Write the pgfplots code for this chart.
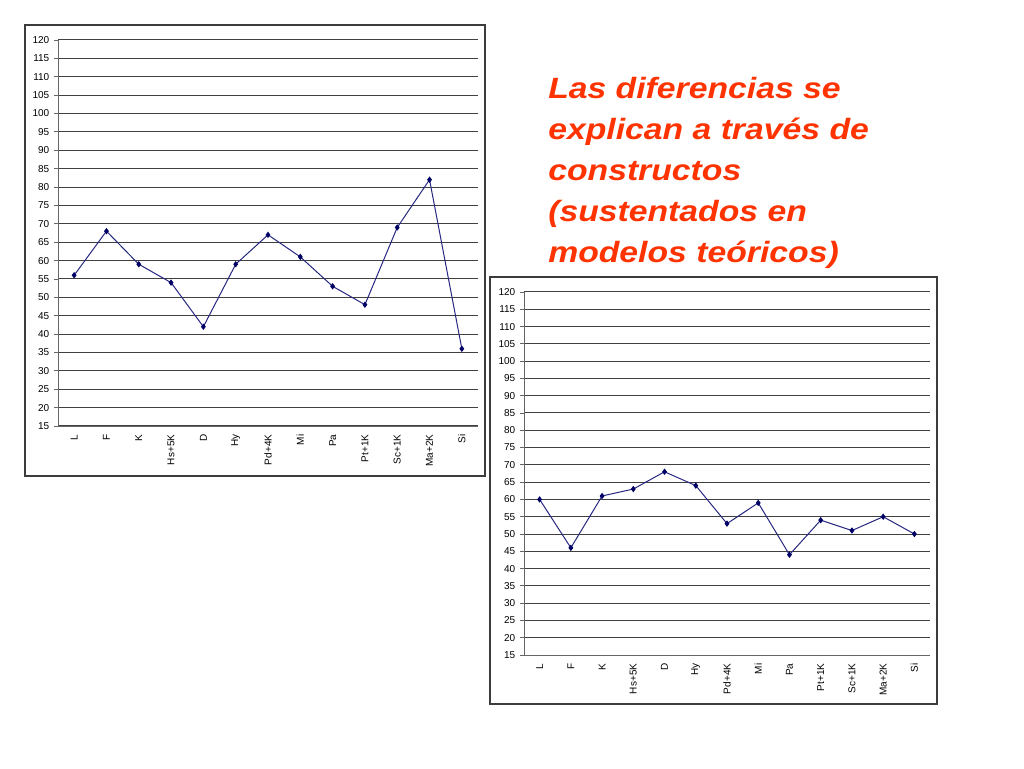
\documentclass[border=0pt]{standalone}
\usepackage{pgfplots}
\pgfplotsset{compat=1.18}
\usepackage{fontspec}
\setmainfont{Liberation Sans}
\newfontfamily\slidefont[FakeStretch=1.15]{Liberation Sans}

\definecolor{linecol}{RGB}{40,40,130}
\definecolor{markcol}{RGB}{0,0,100}
\definecolor{txtred}{RGB}{255,51,0}
\definecolor{framecol}{RGB}{60,60,60}

\pgfplotsset{panel/.style={
  scale only axis, anchor=south west,
  /pgf/number format/assume math mode=true,
  xmin=0.5, xmax=13.5, ymin=15, ymax=120,
  axis x line*=bottom, axis y line*=left,
  axis line style={-, black!60, line width=0.6pt},
  tick align=outside,
  xtick={1,...,13},
  xticklabels={L,F,K,Hs+5K,D,Hy,Pd+4K,Mi,Pa,Pt+1K,Sc+1K,Ma+2K,Si},
  x tick label style={rotate=90, anchor=east, font=\fontsize{7.5}{9}\selectfont},
  major x tick style={draw=none},
  extra x ticks={0.5,1.5,...,13.5},
  extra x tick labels={},
  extra x tick style={major tick style={draw=black!60, line width=0.6pt}, major tick length=3pt},
  ytick={15,20,...,120},
  y tick label style={font=\fontsize{7.5}{9}\selectfont},
  major y tick style={black!60, line width=0.6pt},
  major tick length=3pt,
  ymajorgrids,
  major grid style={black!75, line width=0.75pt},
},
series/.style={color=linecol, line width=0.75pt, mark=diamond*, mark size=1.8pt,
  mark options={fill=markcol, draw=markcol, solid}},
}

\begin{document}
\begin{tikzpicture}
\path[use as bounding box, fill=white] (0,0) rectangle (768pt,576pt);

% frames round the two charts
\draw[framecol, line width=1pt] (18.75pt,219pt) rectangle (363.75pt,557.25pt);
\draw[framecol, line width=1pt] (367.5pt,48pt) rectangle (702.75pt,368.25pt);

\begin{axis}[panel, at={(43.5pt,256.5pt)}, width=315pt, height=289.5pt]
\addplot[series] coordinates {(1,56)(2,68)(3,59)(4,54)(5,42)(6,59)(7,67)(8,61)(9,53)(10,48)(11,69)(12,82)(13,36)};
\end{axis}

\begin{axis}[panel, at={(393pt,84.75pt)}, width=304.5pt, height=272.25pt]
\addplot[series] coordinates {(1,60)(2,46)(3,61)(4,63)(5,68)(6,64)(7,53)(8,59)(9,44)(10,54)(11,51)(12,55)(13,50)};
\end{axis}

\begin{scope}[every node/.style={anchor=base west, inner sep=0pt, text=txtred,
    font=\slidefont\fontsize{22}{26}\selectfont\bfseries\itshape}]
\node at (411pt,501.75pt) {Las diferencias se};
\node at (411pt,471pt) {explican a través de};
\node at (411pt,440.25pt) {constructos};
\node at (411pt,409.5pt) {(sustentados en};
\node at (411pt,378.75pt) {modelos teóricos)};
\end{scope}
\end{tikzpicture}
\end{document}
